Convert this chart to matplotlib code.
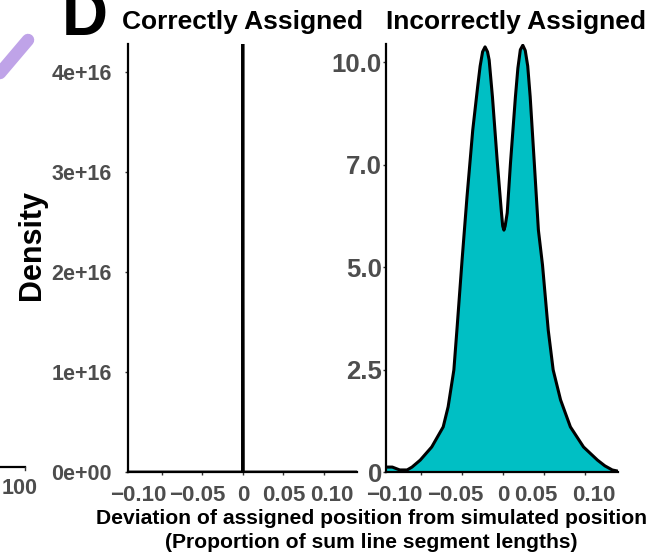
import numpy as np
import matplotlib
matplotlib.use("Agg")
import matplotlib.pyplot as plt
from matplotlib.lines import Line2D

plt.rcParams["font.family"] = ["Liberation Sans", "DejaVu Sans"]
plt.rcParams["font.weight"] = "bold"

TEAL = "#00BFC4"
GREY = "#4D4D4D"

# ---- data ----
panel_titles = ["Correctly Assigned", "Incorrectly Assigned"]

# correctly assigned: a single spike at 0 (clipped at the top)
corr_x = [-0.142, -0.0006, 0.0, 0.0006, 0.141]
corr_y = [0.0, 0.0, 4.28e16, 0.0, 0.0]
corr_yticks = [0, 1e16, 2e16, 3e16, 4e16]
corr_ylabels = ["0e+00", "1e+16", "2e+16", "3e+16", "4e+16"]

# incorrectly assigned: bimodal density
inc_x = [-0.1427, -0.135, -0.126, -0.117, -0.111, -0.101, -0.087, -0.073,
         -0.067, -0.060, -0.056, -0.050, -0.044, -0.037, -0.031, -0.028,
         -0.025, -0.022, -0.019, -0.017, -0.013, -0.007, -0.002, -0.0005,
         0.001, 0.0025, 0.005, 0.009, 0.015, 0.018, 0.021, 0.024, 0.027,
         0.030, 0.033, 0.038, 0.043, 0.048, 0.055, 0.061, 0.070,
         0.082, 0.098, 0.115, 0.124, 0.133, 0.140]
inc_y = [0.12, 0.12, 0.05, 0.05, 0.12, 0.29, 0.61, 1.10,
         1.59, 2.49, 3.54, 5.17, 6.71, 8.34, 9.40, 9.90,
         10.25, 10.37, 10.25, 10.05, 9.15, 7.54, 6.32, 6.00,
         5.90, 6.00, 6.32, 7.54, 9.15, 9.85, 10.30, 10.41, 10.28,
         9.90, 9.15, 7.54, 5.90, 5.05, 3.46, 2.49, 1.76,
         1.10, 0.61, 0.29, 0.15, 0.05, 0.02]
inc_yticks = [0, 2.5, 5.0, 7.5, 10.0]
inc_ylabels = ["0", "2.5", "5.0", "7.0", "10.0"]

xticks = [-0.10, -0.05, 0, 0.05, 0.10]
xlabels = ["\u22120.10", "\u22120.05", "0", "0.05", "0.10"]
# label nudges (points) to follow the hand-placed labels in the original
left_nudge = [-17, -4, 0, 0, 6]
right_nudge = [-19, -5, 0, -6, 6]

W, H = 6.51, 5.55
fig = plt.figure(figsize=(W, H), dpi=100)

def px(x0, y0, x1, y1):
    # pixel box (top-left origin) -> figure fraction rect
    return [x0 / 651, 1 - y1 / 555, (x1 - x0) / 651, (y1 - y0) / 555]

ax1 = fig.add_axes(px(128, 44, 357, 472))
ax2 = fig.add_axes(px(386, 44, 618, 472))


def style(ax, yticks, ylabels, ysize, ypad, nudges):
    for s in ("top", "right"):
        ax.spines[s].set_visible(False)
    for s in ("left", "bottom"):
        ax.spines[s].set_linewidth(1.6)
        ax.spines[s].set_color("black")
    ax.set_xticks(xticks)
    ax.set_xticklabels([])
    ax.set_yticks(yticks)
    ax.set_yticklabels(ylabels)
    ax.tick_params(axis="both", length=2.5, width=1, color="#333333")
    ax.tick_params(axis="y", labelsize=ysize, labelcolor=GREY, pad=ypad)
    for v, lab, dx in zip(xticks, xlabels, nudges):
        ax.annotate(lab, xy=(v, 0), xycoords=ax.get_xaxis_transform(),
                    xytext=(dx, -9.5), textcoords="offset points",
                    ha="center", va="top", fontsize=16, color=GREY,
                    fontweight="bold")
    ax.set_facecolor("white")


# left panel
ax1.fill_between(corr_x, corr_y, color=TEAL, lw=0)
ax1.plot(corr_x, corr_y, color="black", lw=2.0)
ax1.set_xlim(-0.142, 0.141)
ax1.set_ylim(0, 4.28e16)
style(ax1, corr_yticks, corr_ylabels, 15.5, 9, left_nudge)

# right panel
ax2.fill_between(inc_x, inc_y, color=TEAL, lw=0)
ax2.plot(inc_x, inc_y, color="black", lw=2.2, solid_joinstyle="round")
ax2.set_xlim(-0.1427, 0.140)
ax2.set_ylim(0, 10.44)
style(ax2, inc_yticks, inc_ylabels, 18.5, 0.5, right_nudge)

# strip titles
fig.text(242 / 651, 1 - 22 / 555, panel_titles[0], ha="center", va="center",
         fontsize=19, fontweight="bold")
fig.text(516 / 651, 1 - 22 / 555, panel_titles[1], ha="center", va="center",
         fontsize=19, fontweight="bold")

# axis labels
fig.text(32 / 651, 1 - 245 / 555, "Density", rotation=90, ha="center",
         va="center", fontsize=22, fontweight="bold")
fig.text(371 / 651, 1 - 519 / 555,
         "Deviation of assigned position from simulated position",
         ha="center", va="center", fontsize=15.2, fontweight="bold")
fig.text(371 / 651, 1 - 543 / 555,
         "(Proportion of sum line segment lengths)",
         ha="center", va="center", fontsize=15.2, fontweight="bold")

# panel letter (top clipped by the figure edge, as in the source panel)
fig.text(62 / 651, 1 - 35 / 555, "D", ha="left", va="baseline",
         fontsize=46, fontweight="bold")

# fragments of the neighbouring panel at the left edge
fig.add_artist(Line2D([0 / 651, 28 / 651], [1 - 73 / 555, 1 - 40 / 555],
                      color="#BFA3E8", lw=9, solid_capstyle="round",
                      transform=fig.transFigure))
fig.add_artist(Line2D([0, 25 / 651], [1 - 467 / 555, 1 - 467 / 555],
                      color="black", lw=1.6, transform=fig.transFigure))
fig.add_artist(Line2D([25 / 651, 25 / 651], [1 - 467 / 555, 1 - 470 / 555],
                      color="#333333", lw=1, transform=fig.transFigure))
fig.text(38 / 651, 1 - 488 / 555, "100", ha="right", va="center",
         fontsize=15.5, color=GREY, fontweight="bold")

fig.savefig("out.png", dpi=100, facecolor="white")
